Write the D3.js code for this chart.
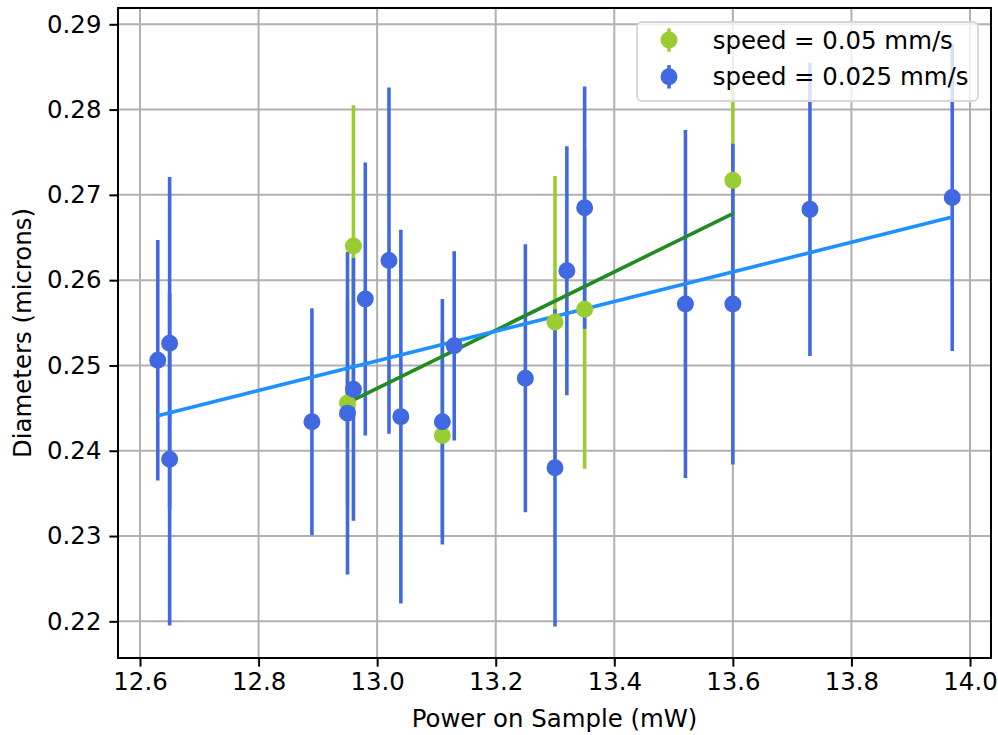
<!DOCTYPE html>
<html>
<head>
<meta charset="utf-8">
<script src="https://cdn.jsdelivr.net/npm/d3@7"></script>
<style>
  body { margin: 0; background: #fff; }
  svg { display: block; font-family: "DejaVu Sans", sans-serif; }
</style>
</head>
<body>
<svg id="chart"></svg>
<script>
const WIDTH = 998;
const HEIGHT = 735;
const LEFT = 118;
const RIGHT = 991;
const TOP = 8;
const BOTTOM = 658;
const FONT = 24.4;

// speed = 0.05 mm/s
const greenX = [12.95, 12.96, 13.11, 13.30, 13.35, 13.60];
const greenY = [0.2456, 0.2640, 0.2418, 0.2551, 0.2566, 0.2717];
const greenErr = [0.012, 0.0165, 0.012, 0.0171, 0.0187, 0.0116];

// speed = 0.025 mm/s
const blueX = [12.63, 12.65, 12.65, 12.89, 12.95, 12.96, 12.98, 13.02, 13.04, 13.11,
  13.13, 13.25, 13.30, 13.32, 13.35, 13.52, 13.60, 13.73, 13.97];
const blueY = [0.2506, 0.2526, 0.2390, 0.2434, 0.2444, 0.2472, 0.2578, 0.2623, 0.2440, 0.2434,
  0.2523, 0.2485, 0.2380, 0.2611, 0.2685, 0.2572, 0.2572, 0.2683, 0.2697];
const blueErr = [0.0141, 0.0195, 0.0195, 0.0133, 0.0189, 0.0154, 0.0160, 0.0203, 0.0219, 0.0144,
  0.0111, 0.0157, 0.0186, 0.0146, 0.0142, 0.0204, 0.0188, 0.0172, 0.0180];

// linear fits
const greenFitX = [12.95, 13.60];
const greenFitY = [0.2456, 0.2678];
const blueFitX = [12.63, 13.97];
const blueFitY = [0.2441, 0.2674];

const xTicks = [12.6, 12.8, 13.0, 13.2, 13.4, 13.6, 13.8, 14.0];
const yTicks = [0.22, 0.23, 0.24, 0.25, 0.26, 0.27, 0.28, 0.29];

const series = [
  { label: "speed = 0.05 mm/s", x: greenX, y: greenY, err: greenErr, color: "#9acd32" },
  { label: "speed = 0.025 mm/s", x: blueX, y: blueY, err: blueErr, color: "#4169e1" },
];
const fits = [
  { x: greenFitX, y: greenFitY, color: "#228b22" },
  { x: blueFitX, y: blueFitY, color: "#1e90ff" },
];

const svg = d3.select("#chart").attr("width", WIDTH).attr("height", HEIGHT);

const xScale = d3.scaleLinear().domain([12.5629, 14.0354]).range([LEFT, RIGHT]);
const yScale = d3.scaleLinear().domain([0.21570, 0.29191]).range([BOTTOM, TOP]);

// grid
svg.append("g")
  .selectAll("line")
  .data(xTicks)
  .enter()
  .append("line")
  .attr("x1", (d) => xScale(d))
  .attr("x2", (d) => xScale(d))
  .attr("y1", TOP)
  .attr("y2", BOTTOM)
  .attr("stroke", "#b0b0b0")
  .attr("stroke-width", 2);

svg.append("g")
  .selectAll("line")
  .data(yTicks)
  .enter()
  .append("line")
  .attr("x1", LEFT)
  .attr("x2", RIGHT)
  .attr("y1", (d) => yScale(d))
  .attr("y2", (d) => yScale(d))
  .attr("stroke", "#b0b0b0")
  .attr("stroke-width", 2);

// error bars first, then fit lines, then markers
series.forEach((s) => {
  svg.append("g")
    .selectAll("line")
    .data(s.x)
    .enter()
    .append("line")
    .attr("x1", (d) => xScale(d))
    .attr("x2", (d) => xScale(d))
    .attr("y1", (d, i) => yScale(s.y[i] - s.err[i]))
    .attr("y2", (d, i) => yScale(s.y[i] + s.err[i]))
    .attr("stroke", s.color)
    .attr("stroke-width", 3.6);
});

const line = d3.line()
  .x((d) => xScale(d[0]))
  .y((d) => yScale(d[1]));

fits.forEach((f) => {
  svg.append("path")
    .attr("d", line(f.x.map((d, i) => [d, f.y[i]])))
    .attr("fill", "none")
    .attr("stroke", f.color)
    .attr("stroke-width", 3.6);
});

series.forEach((s) => {
  svg.append("g")
    .selectAll("circle")
    .data(s.x)
    .enter()
    .append("circle")
    .attr("cx", (d) => xScale(d))
    .attr("cy", (d, i) => yScale(s.y[i]))
    .attr("r", 7.3)
    .attr("fill", s.color)
    .attr("stroke", s.color)
    .attr("stroke-width", 2.4);
});

// axes
const xAxis = d3.axisBottom(xScale)
  .tickValues(xTicks)
  .tickFormat(d3.format(".1f"))
  .tickSize(8.6)
  .tickSizeOuter(0)
  .tickPadding(6);

const gx = svg.append("g")
  .attr("transform", `translate(0, ${BOTTOM})`)
  .call(xAxis);

const yAxis = d3.axisLeft(yScale)
  .tickValues(yTicks)
  .tickFormat(d3.format(".2f"))
  .tickSize(8.6)
  .tickSizeOuter(0)
  .tickPadding(8);

const gy = svg.append("g")
  .attr("transform", `translate(${LEFT}, 0)`)
  .call(yAxis);

[gx, gy].forEach((g) => {
  g.select(".domain").remove();
  g.selectAll(".tick line").attr("stroke", "#000").attr("stroke-width", 2);
  g.selectAll(".tick text")
    .attr("fill", "#000")
    .style("font-size", FONT + "px")
    .style("font-family", "'DejaVu Sans', sans-serif");
});

// spines
svg.append("rect")
  .attr("x", LEFT)
  .attr("y", TOP)
  .attr("width", RIGHT - LEFT)
  .attr("height", BOTTOM - TOP)
  .attr("fill", "none")
  .attr("stroke", "#000")
  .attr("stroke-width", 2);

// axis labels
svg.append("text")
  .attr("x", (LEFT + RIGHT) / 2)
  .attr("y", 727)
  .attr("text-anchor", "middle")
  .style("font-size", FONT + "px")
  .text("Power on Sample (mW)");

svg.append("text")
  .attr("transform", `translate(30.5, ${(TOP + BOTTOM) / 2}) rotate(-90)`)
  .attr("text-anchor", "middle")
  .style("font-size", FONT + "px")
  .text("Diameters (microns)");

// legend
const legend = svg.append("g");
legend.append("rect")
  .attr("x", 637)
  .attr("y", 22)
  .attr("width", 341)
  .attr("height", 79)
  .attr("rx", 5)
  .attr("fill", "#fff")
  .attr("fill-opacity", 0.8)
  .attr("stroke", "#d6d6d6")
  .attr("stroke-width", 1.8);

const rows = [40, 76.8];
series.forEach((s, i) => {
  const cy = rows[i];
  legend.append("line")
    .attr("x1", 669)
    .attr("x2", 669)
    .attr("y1", cy - 11.7)
    .attr("y2", cy + 11.7)
    .attr("stroke", s.color)
    .attr("stroke-width", 3.6);
  legend.append("circle")
    .attr("cx", 669)
    .attr("cy", cy)
    .attr("r", 7.3)
    .attr("fill", s.color)
    .attr("stroke", s.color)
    .attr("stroke-width", 2.4);
  legend.append("text")
    .attr("x", 712.7)
    .attr("y", cy + 8.5)
    .style("font-size", FONT + "px")
    .attr("fill", "#000")
    .text(s.label);
});
</script>
</body>
</html>
